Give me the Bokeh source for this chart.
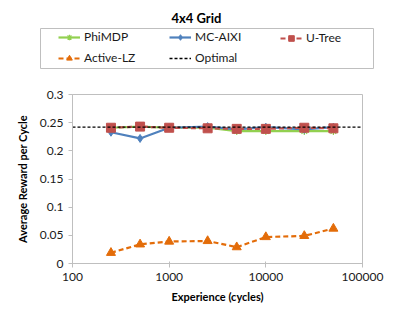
from bokeh.plotting import figure
from bokeh.models import Legend, LegendItem, FixedTicker, Range1d
from bokeh.embed import file_html
from bokeh.resources import INLINE

experience = [250, 500, 1000, 2500, 5000, 10000, 25000, 50000]
phimdp = [0.241, 0.243, 0.241, 0.241, 0.235, 0.235, 0.235, 0.235]
mc_aixi = [0.233, 0.222, 0.241, 0.243, 0.238, 0.242, 0.238, 0.242]
u_tree = [0.241, 0.243, 0.241, 0.240, 0.239, 0.239, 0.241, 0.240]
active_lz = [0.019, 0.034, 0.039, 0.040, 0.029, 0.047, 0.049, 0.062]
optimal = 0.242
x_ticks = [100, 1000, 10000, 100000]
y_ticks = [0, 0.05, 0.1, 0.15, 0.2, 0.25, 0.3]
legend_columns = [["PhiMDP", "Active-LZ"], ["MC-AIXI", "Optimal"], ["U-Tree"]]

FONT = "Lato"
AX = "#BFBFBF"
GREEN = "#92D050"
BLUE = "#4F81BD"
RED = "#C0504D"
ORANGE = "#E36C09"

# ---------- main plot ----------
p = figure(width=386, height=229, x_axis_type="log", output_backend="svg",
           toolbar_location=None,
           x_range=Range1d(x_ticks[0], x_ticks[-1]), y_range=Range1d(y_ticks[0], y_ticks[-1]),
           min_border_left=72, min_border_right=24, min_border_bottom=41, min_border_top=18)
p.xgrid.visible = False
p.ygrid.visible = False
p.outline_line_color = AX
p.outline_line_width = 1

for ax in (p.xaxis[0], p.yaxis[0]):
    ax.axis_line_color = AX
    ax.major_tick_line_color = AX
    ax.minor_tick_line_color = None
    ax.major_label_text_font = FONT
    ax.major_label_text_font_size = "12px"
    ax.major_label_text_color = "#1a1a1a"
    ax.axis_label_text_font = FONT
    ax.axis_label_text_font_size = "11px"
    ax.axis_label_text_font_style = "bold"
    ax.axis_label_text_color = "#000000"

p.xaxis.ticker = FixedTicker(ticks=x_ticks)
p.xaxis.major_label_overrides = {t: str(t) for t in x_ticks}
p.xaxis.major_tick_in = 2
p.xaxis.major_tick_out = 4
p.xaxis.axis_label = "Experience (cycles)"
p.xaxis.axis_label_standoff = 6
p.yaxis.ticker = FixedTicker(ticks=y_ticks)
p.yaxis.major_label_overrides = {t: ("%g" % t) for t in y_ticks}
p.yaxis.major_tick_in = 0
p.yaxis.major_tick_out = 4
p.yaxis.axis_label = "Average Reward per Cycle"
p.yaxis.axis_label_standoff = 8

p.line(experience, active_lz, line_color=ORANGE, line_width=2.2, line_dash="5 3")
p.scatter(experience, active_lz, marker="triangle", size=9, fill_color=ORANGE, line_color=ORANGE)
p.line(experience, phimdp, line_color=GREEN, line_width=2.2)
p.scatter(experience, phimdp, marker="asterisk", size=8, line_color=GREEN, line_width=1.2)
p.line(experience, mc_aixi, line_color=BLUE, line_width=2.2)
p.scatter(experience, mc_aixi, marker="diamond", size=8, fill_color=BLUE, line_color=BLUE)
p.line(experience, u_tree, line_color=RED, line_width=2.2, line_dash="5 3")
p.scatter(experience, u_tree, marker="square", size=9, fill_color=RED, line_color=RED)
p.line([x_ticks[0], x_ticks[-1]], [optimal, optimal], line_color="black",
       line_width=1.3, line_dash="3 2")

# ---------- header: title + legend ----------
h = figure(width=386, height=76, output_backend="svg", toolbar_location=None,
           title="4x4 Grid", x_range=Range1d(0, 1), y_range=Range1d(0, 1),
           x_axis_location=None, y_axis_location=None,
           min_border_left=40, min_border_right=13, min_border_bottom=8, min_border_top=28)
h.grid.visible = False
h.outline_line_color = AX
h.title.align = "left"
h.title.offset = 131
h.title.standoff = 6
h.title.text_font = FONT
h.title.text_font_size = "13px"
h.title.text_font_style = "bold"
h.title.text_color = "#000000"

# legend-only renderers: a single point placed outside the visible range
ox = [5]
oy = [5]
swatches = {
    "PhiMDP": [h.line(ox, oy, line_color=GREEN, line_width=2.2),
               h.scatter(ox, oy, marker="asterisk", size=8, line_color=GREEN, line_width=1.2)],
    "MC-AIXI": [h.line(ox, oy, line_color=BLUE, line_width=2.2),
                h.scatter(ox, oy, marker="diamond", size=8, fill_color=BLUE, line_color=BLUE)],
    "U-Tree": [h.line(ox, oy, line_color=RED, line_width=2.2, line_dash="5 3"),
               h.scatter(ox, oy, marker="square", size=9, fill_color=RED, line_color=RED)],
    "Active-LZ": [h.line(ox, oy, line_color=ORANGE, line_width=2.2, line_dash="5 3"),
                  h.scatter(ox, oy, marker="triangle", size=9, fill_color=ORANGE, line_color=ORANGE)],
    "Optimal": [h.line(ox, oy, line_color="black", line_width=1.3, line_dash="3 2")],
}

col_pitch = 111
for i, names in enumerate(legend_columns):
    lg = Legend(items=[LegendItem(label=n, renderers=swatches[n]) for n in names],
                orientation="vertical", location=(18 + i * col_pitch, 3 + (2 - len(names)) * 20),
                label_text_font=FONT, label_text_font_size="12px", label_text_color="#1a1a1a",
                glyph_width=22, glyph_height=14, label_height=14,
                label_standoff=4, spacing=6, padding=0, margin=0,
                border_line_alpha=0, background_fill_alpha=0)
    h.add_layout(lg)

open("out.html", "w").write(file_html([h, p], INLINE))
